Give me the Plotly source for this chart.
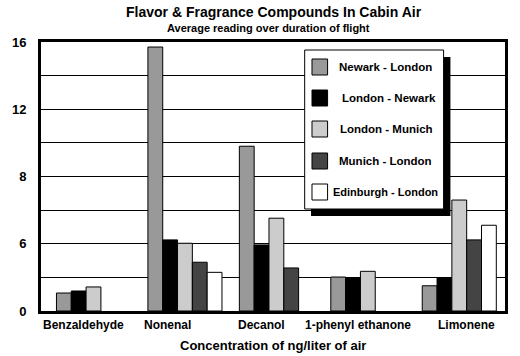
import plotly.graph_objects as go

categories = ["Benzaldehyde", "Nonenal", "Decanol", "1-phenyl ethanone", "Limonene"]
series_names = ["Newark - London", "London - Newark", "London - Munich", "Munich - London", "Edinburgh - London"]
newark_london = [1.07, 15.7, 9.8, 2.02, 1.5]
london_newark = [1.19, 4.23, 3.93, 1.96, 1.96]
london_munich = [1.43, 4.03, 5.52, 2.36, 6.6]
munich_london = [None, 2.9, 2.56, None, 4.23]
edinburgh_london = [None, 2.3, None, None, 5.1]
series_values = [newark_london, london_newark, london_munich, munich_london, edinburgh_london]
colors = ["#999999", "#000000", "#cccccc", "#444444", "#ffffff"]

tick_vals = [0, 2, 4, 6, 8, 10, 12, 14, 16]
tick_text = ["0", "", "6", "", "8", "", "12", "", "16"]
label_shift = [-10, -17, -15, -10, 7]

FONT = "Liberation Sans, Arial, sans-serif"

fig = go.Figure()
for name, vals, col in zip(series_names, series_values, colors):
    fig.add_trace(go.Bar(
        x=categories, y=vals, name=name,
        marker=dict(color=col, line=dict(color="black", width=1)),
        showlegend=False,
    ))

fig.update_layout(
    width=520, height=356,
    margin=dict(l=32, r=12, t=42, b=45),
    paper_bgcolor="white", plot_bgcolor="white",
    barmode="group", bargap=0.19, bargroupgap=0,
    font=dict(family=FONT, size=12, color="black"),
    showlegend=False,
)
fig.update_xaxes(
    showticklabels=False, showgrid=False, ticks="",
    showline=True, linecolor="black", linewidth=3, mirror=True,
)
fig.update_yaxes(
    range=[0, 16], tickvals=tick_vals, ticktext=tick_text,
    showgrid=True, gridcolor="black", gridwidth=1, zeroline=False,
    showline=True, linecolor="black", linewidth=3, mirror=True,
    ticks="", ticklabelstandoff=9,
    tickfont=dict(family=FONT, size=13, color="black", weight="bold"),
)

PL, PR, PT, PB = 32, 508, 42, 311
def px(x):
    return (x - PL) / (PR - PL)
def py(y):
    return (PB - y) / (PB - PT)

ann = []
ann.append(dict(text="<b>Flavor &amp; Fragrance Compounds In Cabin Air</b>", x=px(271), y=py(12),
                xref="paper", yref="paper", showarrow=False, xanchor="center", yanchor="middle",
                font=dict(size=14, family=FONT)))
ann.append(dict(text="<b>Average reading over duration of flight</b>", x=px(265), y=py(28),
                xref="paper", yref="paper", showarrow=False, xanchor="center", yanchor="middle",
                font=dict(size=11, family=FONT)))
ann.append(dict(text="<b>Concentration of ng/liter of air</b>", x=px(270), y=py(345),
                xref="paper", yref="paper", showarrow=False, xanchor="center", yanchor="middle",
                font=dict(size=13, family=FONT)))
for c, s in zip(categories, label_shift):
    ann.append(dict(text="<b>%s</b>" % c, x=c, y=0, xref="x", yref="y",
                    yshift=-14, xshift=s, showarrow=False, yanchor="middle",
                    font=dict(size=12, family=FONT)))

shapes = []
# legend shadow and box
shapes.append(dict(type="rect", xref="paper", yref="paper",
                   x0=px(309), x1=px(452), y0=py(216), y1=py(57),
                   fillcolor="black", line=dict(width=0), layer="above"))
shapes.append(dict(type="rect", xref="paper", yref="paper",
                   x0=px(302.5), x1=px(445), y0=py(209), y1=py(50),
                   fillcolor="white", line=dict(color="black", width=1), layer="above"))
row_y = [67, 98, 129, 161, 192]
text_x = [336, 339, 337, 336, 329]
text_size = [11.5, 11.5, 11.5, 11.5, 11]
for name, col, ry, tx, ts in zip(series_names, colors, row_y, text_x, text_size):
    shapes.append(dict(type="rect", xref="paper", yref="paper",
                       x0=px(310), x1=px(326), y0=py(ry + 8), y1=py(ry - 8),
                       fillcolor=col, line=dict(color="black", width=1), layer="above"))
    ann.append(dict(text="<b>%s</b>" % name, x=px(tx), y=py(ry), xref="paper", yref="paper",
                    xanchor="left", yanchor="middle", showarrow=False,
                    font=dict(size=ts, family=FONT)))

fig.update_layout(annotations=ann, shapes=shapes)
fig.write_html("out.html")
